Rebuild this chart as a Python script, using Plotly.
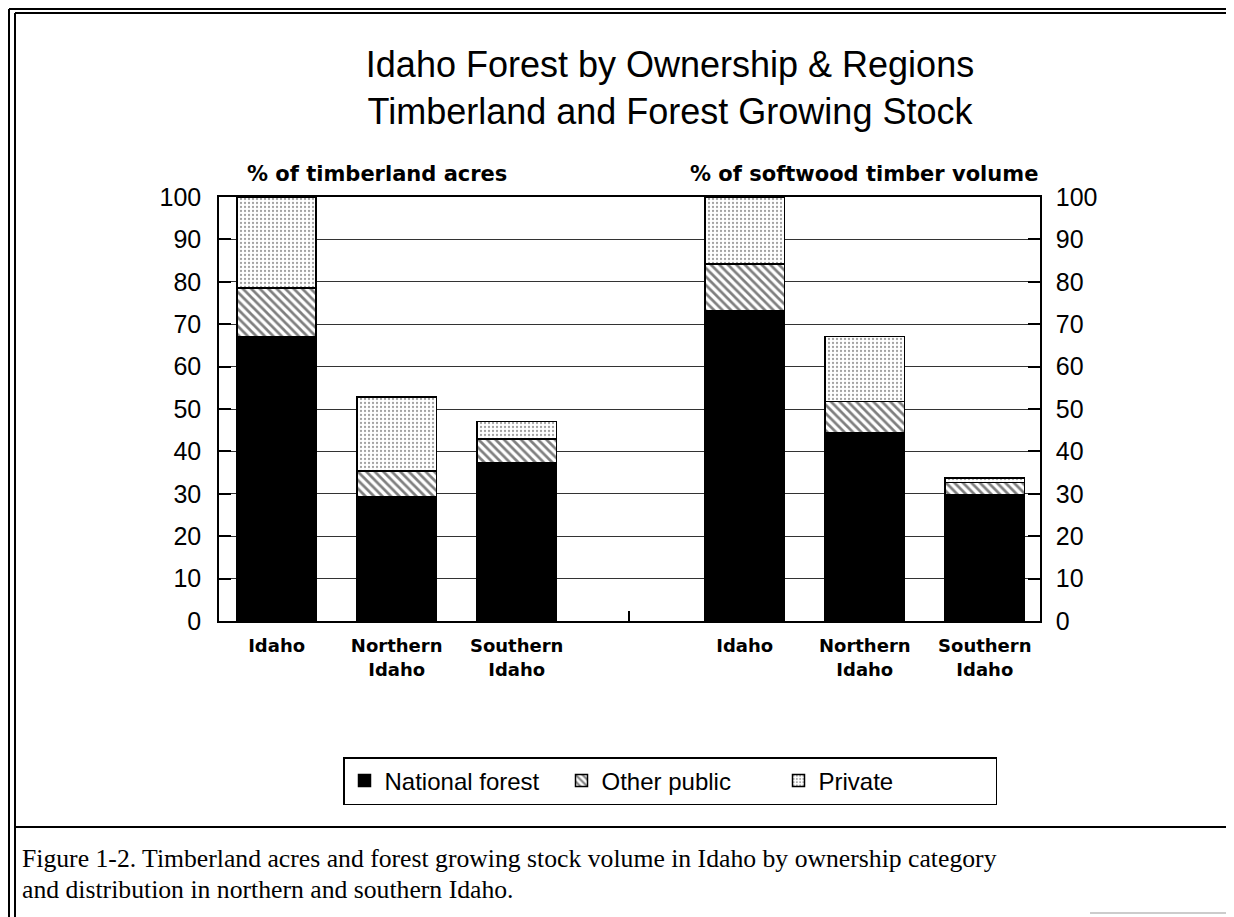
import plotly.graph_objects as go

# values (percent)
regions = ["Idaho", "Northern<br>Idaho", "Southern<br>Idaho"]
owners = ["National forest", "Other public", "Private"]

acres_national = [67.0, 29.3, 37.4]
acres_other = [11.5, 6.1, 5.5]
acres_private = [21.5, 17.4, 4.1]

volume_national = [73.2, 44.3, 29.7]
volume_other = [11.0, 7.5, 3.0]
volume_private = [15.8, 15.3, 1.0]

y_ticks = list(range(0, 101, 10))

# slot positions of the two groups on the shared x axis
x_left = [0, 1, 2]
x_right = [3.9, 4.9, 5.9]

W, H = 1234, 917
OFF = 8  # page body margin the browser adds around the plot div


def fx(x):
    return (x - OFF) / W


def fy(y):
    return 1 - (y - OFF) / H


styles = {
    "National forest": dict(color="black", pattern=None),
    "Other public": dict(color="white",
                         pattern=dict(shape="\\", size=6, solidity=0.45,
                                      fgcolor="black", bgcolor="white")),
    "Private": dict(color="white",
                    pattern=dict(shape=".", size=4, solidity=0.25,
                                 fgcolor="#444", bgcolor="white")),
}

fig = go.Figure()


def add_group(xs, series, yaxis, show):
    for name, vals in zip(owners, series):
        st = styles[name]
        marker = dict(color=st["color"], line=dict(color="black", width=1.5))
        if st["pattern"]:
            marker["pattern"] = st["pattern"]
        fig.add_trace(go.Bar(
            x=xs, y=vals, name=name, yaxis=yaxis,
            width=0.66, marker=marker,
            legendgroup=name, showlegend=show,
        ))


add_group(x_left, [acres_national, acres_other, acres_private], "y", True)
add_group(x_right, [volume_national, volume_other, volume_private], "y2", False)

label_font = dict(family="DejaVu Sans", size=18, color="black", weight="bold")
axis_title_font = dict(family="DejaVu Sans", size=21, color="black", weight="bold")
num_font = dict(family="Liberation Sans", size=25, color="black")
caption_font = dict(family="Liberation Serif", size=25.7, color="black")

fig.update_layout(
    width=W, height=H,
    margin=dict(l=0, r=0, t=0, b=0, autoexpand=False),
    paper_bgcolor="white", plot_bgcolor="white",
    barmode="stack",
    title=dict(
        text="Idaho Forest by Ownership & Regions<br>Timberland and Forest Growing Stock",
        x=fx(670), xanchor="center", y=0.925, yanchor="top",
        font=dict(family="Liberation Sans", size=36, color="black"),
    ),
    xaxis=dict(
        domain=[fx(219), fx(1040)], range=[-0.48, 6.36],
        tickvals=x_left + x_right, ticktext=regions + regions,
        tickfont=label_font, ticks="", ticklabelstandoff=8,
        showline=True, mirror=True, linecolor="black", linewidth=1.5,
        showgrid=False, zeroline=False,
    ),
    yaxis=dict(
        domain=[fy(621), fy(197)], range=[0, 100], tickvals=y_ticks,
        ticks="inside", ticklen=12, tickcolor="black", tickwidth=1.5,
        tickfont=num_font, ticklabelstandoff=11,
        showline=True, linecolor="black", linewidth=1.5,
        showgrid=True, gridcolor="#333", gridwidth=1, zeroline=False,
    ),
    yaxis2=dict(
        overlaying="y", side="right", range=[0, 100], tickvals=y_ticks,
        ticks="inside", ticklen=12, tickcolor="black", tickwidth=1.5,
        tickfont=num_font, ticklabelstandoff=9,
        showline=True, linecolor="black", linewidth=1.5,
        showgrid=False, zeroline=False,
    ),
    legend=dict(
        orientation="h", x=fx(670), xanchor="center", y=fy(757), yanchor="top",
        bordercolor="black", borderwidth=1.5, bgcolor="white",
        font=dict(family="Liberation Sans", size=24, color="black"),
        entrywidth=172, traceorder="normal",
    ),
    showlegend=True,
)

fig.add_annotation(text="% of timberland acres", x=fx(245), y=fy(174),
                   xref="paper", yref="paper", xanchor="left", yanchor="middle",
                   showarrow=False, font=axis_title_font)
fig.add_annotation(text="% of softwood timber volume", x=fx(1040), y=fy(174),
                   xref="paper", yref="paper", xanchor="right", yanchor="middle",
                   showarrow=False, font=axis_title_font)

caption_lines = [
    "Figure 1-2. Timberland acres and forest growing stock volume in Idaho by ownership category",
    "and distribution in northern and southern Idaho.",
]
for i, line in enumerate(caption_lines):
    fig.add_annotation(text=line, x=fx(20), y=fy(858 + 31 * i),
                       xref="paper", yref="paper", xanchor="left", yanchor="middle",
                       showarrow=False, font=caption_font)


# page frame of the scanned figure (given in reference pixels)
def px_line(x0, y0, x1, y1, w=2, c="black"):
    fig.add_shape(type="line", xref="paper", yref="paper",
                  x0=fx(x0), x1=fx(x1), y0=fy(y0), y1=fy(y1),
                  line=dict(color=c, width=w))


px_line(9, 9, 1242, 9, 2)
px_line(15, 13, 1230, 13, 2)
px_line(9, 9, 9, 925, 2)
px_line(15, 13, 15, 925, 2)
px_line(1230, 13, 1230, 827, 2)
px_line(15, 827, 1242, 827, 2)
px_line(1090, 913, 1242, 913, 1.5, "#bbb")
px_line(629, 611, 629, 621, 2)

fig.write_html("out.html")
